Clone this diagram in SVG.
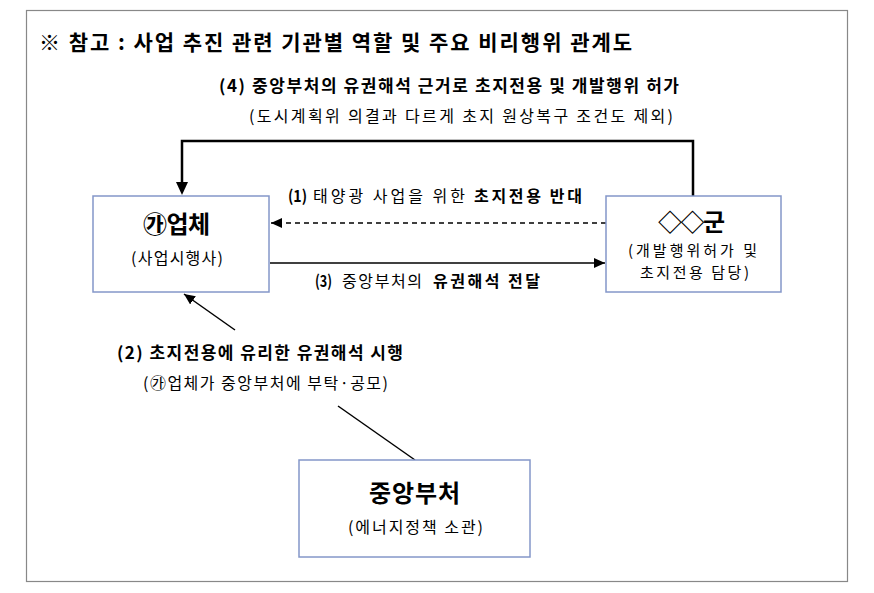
<svg xmlns="http://www.w3.org/2000/svg" width="874" height="593" viewBox="0 0 874 593">
<style>
text{font-family:"Noto Sans CJK KR","Noto Sans",sans-serif;fill:#000}
.b{font-weight:bold}
.t{font-size:21px;font-weight:bold}
.l{font-size:16px}
.lb{font-size:17px;font-weight:bold}
.n{font-size:24px;font-weight:bold}
.s{font-size:16px}
.s2{font-size:15px}
.box{fill:#fff;stroke:#8497c9;stroke-width:1.5}
.c{fill:none;stroke:#000;stroke-width:1.5}
</style>
<defs>
<marker id="ah" markerUnits="userSpaceOnUse" markerWidth="12" markerHeight="10" refX="11" refY="5" orient="auto">
<path d="M0,0 L11,5 L0,10 Z" fill="#000"/>
</marker>
</defs>
<rect x="26.5" y="10.5" width="821" height="571" fill="#fff" stroke="#888" stroke-width="1.2"/>
<text class="t" x="39" y="50" textLength="593" lengthAdjust="spacing">※ 참고 : 사업 추진 관련 기관별 역할 및 주요 비리행위 관계도</text>

<g id="connectors">
<path class="c" style="stroke-width:2.5" d="M693,196 V141 H182 V183" />
<path d="M176,182 L182,195 L188,182 Z" fill="#000"/>
<path class="c" stroke-dasharray="5,4" d="M606,223 H271" marker-end="url(#ah)"/>
<path class="c" d="M270,263 H605" marker-end="url(#ah)"/>
<path class="c" d="M235,330 L184,294" marker-end="url(#ah)"/>
<path class="c" d="M338,406 L415,460"/>
</g>

<g id="labels">
<text class="lb" x="219" y="92" textLength="460" lengthAdjust="spacing">(4) 중앙부처의 유권해석 근거로 초지전용 및 개발행위 허가</text>
<text class="l" x="249" y="122" textLength="424" lengthAdjust="spacing">(도시계획위 의결과 다르게 초지 원상복구 조건도 제외)</text>
<text class="l b" x="288" y="202" textLength="19" lengthAdjust="spacingAndGlyphs">(1)</text>
<text class="l" x="313" y="202" textLength="152" lengthAdjust="spacing">태양광 사업을 위한</text>
<text class="l b" x="474" y="202" textLength="108" lengthAdjust="spacing">초지전용 반대</text>
<text class="l b" x="315" y="287" textLength="17" lengthAdjust="spacingAndGlyphs">(3)</text>
<text class="l" x="342" y="287" textLength="80" lengthAdjust="spacing">중앙부처의</text>
<text class="l b" x="433" y="287" textLength="107" lengthAdjust="spacing">유권해석 전달</text>
<text class="lb" x="117" y="359" textLength="286" lengthAdjust="spacing">(2) 초지전용에 유리한 유권해석 시행</text>
<text class="l" x="143" y="389" textLength="245" lengthAdjust="spacing">(㉮업체가 중앙부처에 부탁·공모)</text>
</g>

<g id="node-company">
<rect class="box" x="93" y="196" width="176" height="96"/>
<text class="n" x="143" y="233" textLength="67" lengthAdjust="spacing">㉮업체</text>
<text class="s" x="131" y="264" textLength="92" lengthAdjust="spacing">(사업시행사)</text>
</g>

<g id="node-county">
<rect class="box" x="606" y="196" width="175" height="96"/>
<text class="n" x="658" y="231" textLength="67" lengthAdjust="spacing">◇◇군</text>
<text class="s2" x="628" y="256" textLength="129" lengthAdjust="spacing">(개발행위허가 및</text>
<text class="s2" x="640" y="278" textLength="109" lengthAdjust="spacing">초지전용 담당)</text>
</g>

<g id="node-ministry">
<rect class="box" x="299" y="460" width="231" height="97"/>
<text class="n" x="369" y="502" textLength="91" lengthAdjust="spacing">중앙부처</text>
<text class="s" x="348" y="533" textLength="135" lengthAdjust="spacing">(에너지정책 소관)</text>
</g>
</svg>
